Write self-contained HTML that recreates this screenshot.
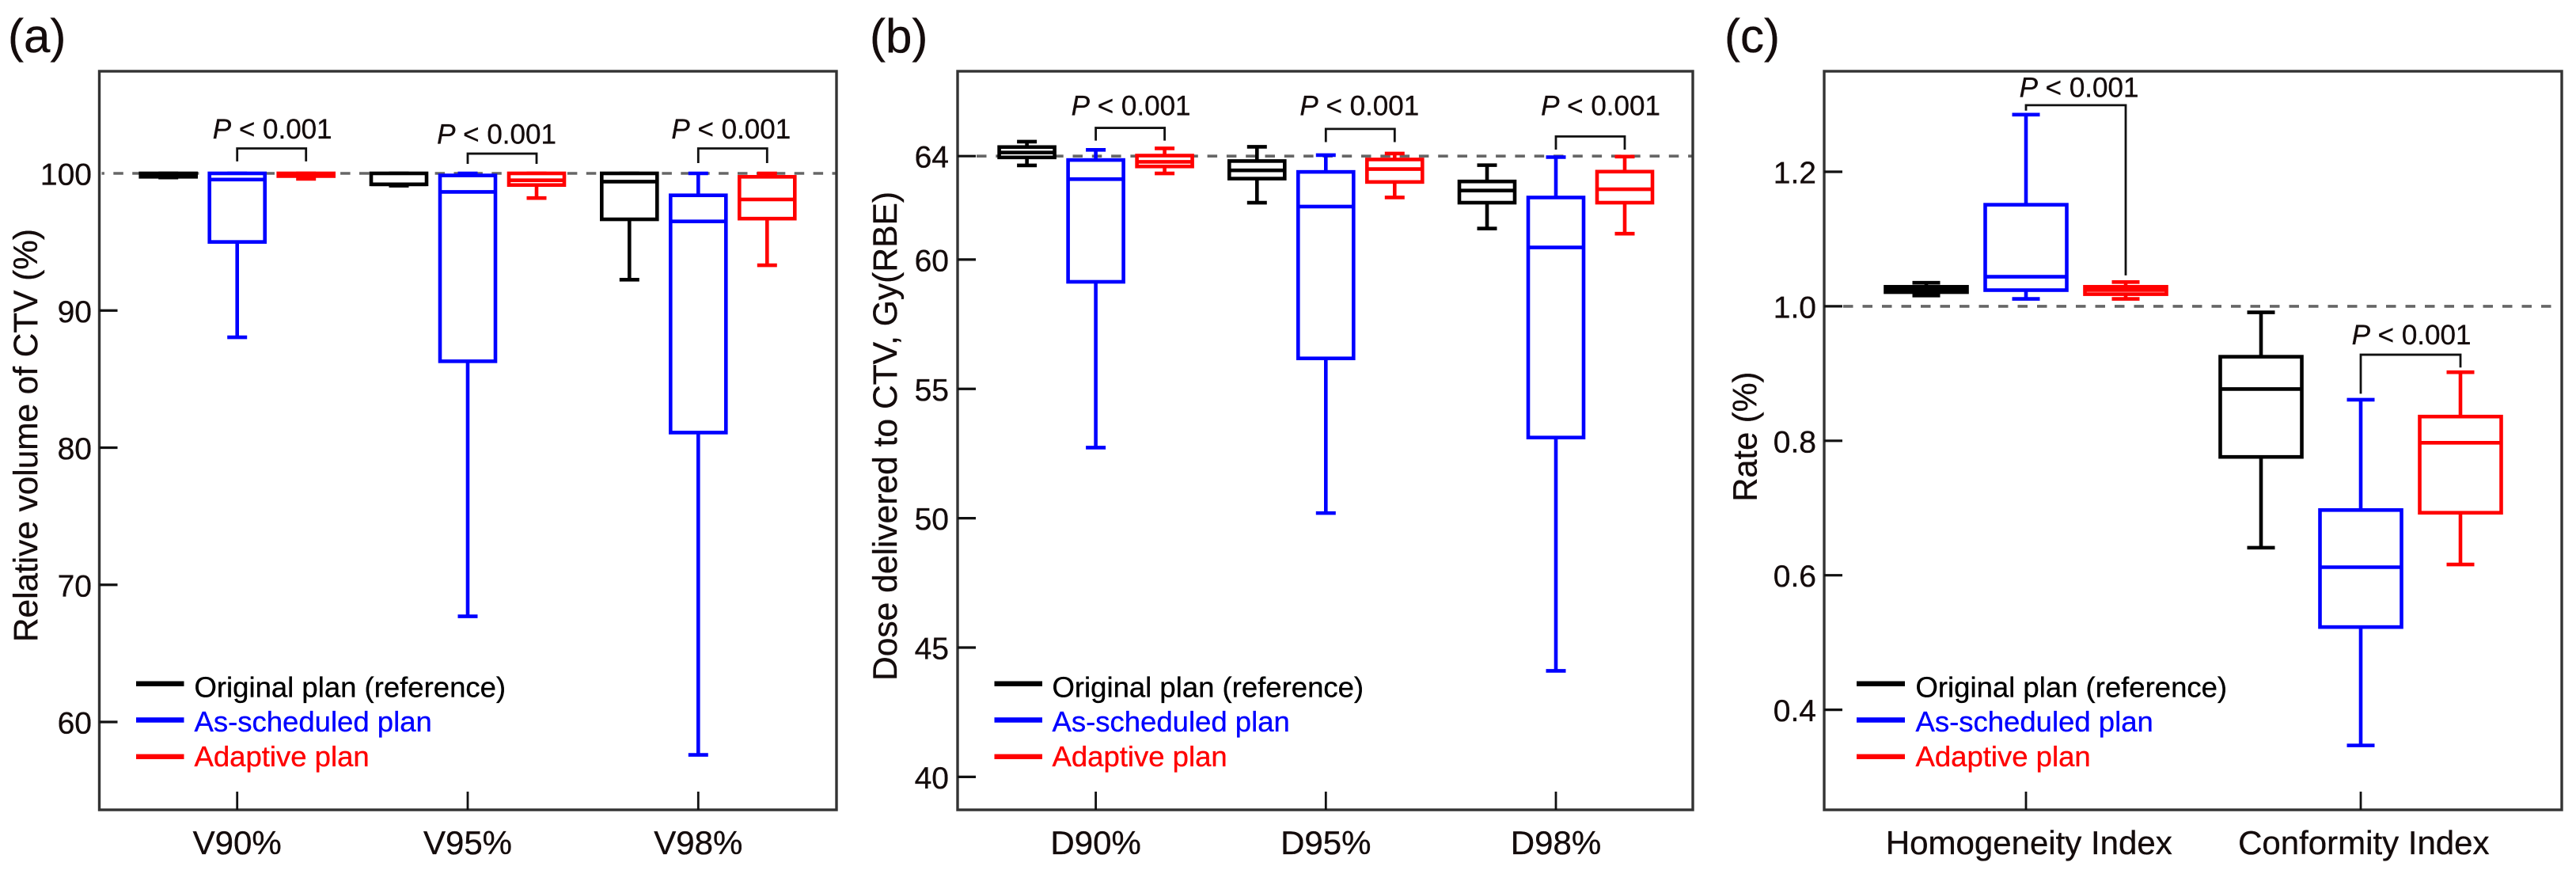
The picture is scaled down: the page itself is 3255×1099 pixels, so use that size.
<!DOCTYPE html>
<html lang="en">
<head>
<meta charset="utf-8">
<title>CTV coverage box plots</title>
<style>
  html, body { margin: 0; padding: 0; background: #fff; }
  svg { display: block; }
  text { font-family: "Liberation Sans", Arial, sans-serif; color: #140c0c; fill: currentColor; stroke: currentColor; stroke-width: 0.35px; }
</style>
</head>
<body>
<svg id="figure" xmlns="http://www.w3.org/2000/svg" width="3255" height="1099" viewBox="0 0 3255 1099">
  <rect x="0" y="0" width="3255" height="1099" fill="#ffffff"/>
</svg>
<script>
// ---------- Data: each box is [low whisker, Q1, median, Q3, high whisker] ----------
const seriesNames = ['Original plan (reference)', 'As-scheduled plan', 'Adaptive plan'];
const seriesColors = ['#000000', '#0000ff', '#ff0000'];

// Panel (a)
const aCategories = ['V90%', 'V95%', 'V98%'];
const aTickValues = [100, 90, 80, 70, 60];
const aOriginal = [[99.7, 99.75, 99.9, 100, 100], [99.1, 99.2, 99.2, 100, 100], [92.25, 96.65, 99.4, 100, 100]];
const aScheduled = [[88.05, 95.0, 99.55, 100, 100], [67.7, 86.3, 98.65, 99.85, 100], [57.6, 81.1, 96.5, 98.4, 100]];
const aAdaptive = [[99.6, 99.8, 99.9, 100, 100], [98.2, 99.15, 99.5, 100, 100], [93.3, 96.7, 98.1, 99.75, 100]];
const aBracketTop = [101.82, 101.44, 101.82];
const aBracketLeftEnd = [100.87, 100.69, 100.75];
const aBracketRightEnd = [100.87, 100.69, 100.75];
const aPLabelLevel = [102.54, 102.17, 102.54];
const aPLabelText = ['< 0.001', '< 0.001', '< 0.001'];

// Panel (b)
const bCategories = ['D90%', 'D95%', 'D98%'];
const bTickValues = [64, 60, 55, 50, 45, 40];
const bOriginal = [[63.64, 63.95, 64.14, 64.35, 64.56], [62.2, 63.13, 63.45, 63.81, 64.36], [61.2, 62.2, 62.67, 63.02, 63.65]];
const bScheduled = [[52.73, 59.14, 63.11, 63.85, 64.24], [50.2, 56.18, 62.05, 63.39, 64.04], [44.1, 53.12, 60.47, 62.4, 63.96]];
const bAdaptive = [[63.33, 63.6, 63.78, 64.02, 64.3], [62.4, 63.0, 63.5, 63.87, 64.1], [61.0, 62.2, 62.72, 63.4, 63.98]];
const bBracketTop = [65.09, 65.05, 64.76];
const bBracketLeftEnd = [64.6, 64.54, 64.25];
const bBracketRightEnd = [64.6, 64.54, 64.25];
const bPLabelLevel = [65.58, 65.58, 65.58];
const bPLabelText = ['< 0.001', '< 0.001', '< 0.001'];

// Panel (c)
const cCategories = ['Homogeneity Index', 'Conformity Index'];
const cTickValues = [1.2, 1.0, 0.8, 0.6, 0.4];
const cTickLabels = ['1.2', '1.0', '0.8', '0.6', '0.4'];
const cOriginal = [[1.016, 1.021, 1.025, 1.029, 1.035], [0.641, 0.776, 0.877, 0.925, 0.991]];
const cScheduled = [[1.011, 1.024, 1.044, 1.151, 1.285], [0.347, 0.523, 0.612, 0.697, 0.861]];
const cAdaptive = [[1.011, 1.018, 1.024, 1.029, 1.036], [0.616, 0.693, 0.797, 0.836, 0.902]];
const cBracketTop = [1.299, 0.928];
const cBracketLeftEnd = [1.291, 0.870];
const cBracketRightEnd = [1.046, 0.909];
const cPLabelLevel = [1.311, 0.9435];
const cPLabelText = ['< 0.001', '< 0.001'];

// ---------- Layout ----------
const SVG_NS = 'http://www.w3.org/2000/svg';
const figure = document.getElementById('figure');
const LINE = 4.6;
const FRAME_TOP = 90;
const FRAME_BOTTOM = 1023;
const TICK_LENGTH = 23;

const panels = [
  { key: 'a', letter: '(a)', letterX: 10, left: 125.5, right: 1057, firstCat: 299.7, catStep: 291.3,
    seriesStep: 87, boxWidth: 70, capWidth: 25,
    scale: [100, 219, 60, 912], categories: aCategories, ticks: aTickValues, tickLabels: aTickValues.map(String),
    hiddenTick: 100, refValue: 100, refStart: 3, dashGap: 11.4, dashOffset: 9.1, tickRight: 116,
    series: [aOriginal, aScheduled, aAdaptive], bracketTop: aBracketTop, bracketLeft: aBracketLeftEnd, bracketRight: aBracketRightEnd,
    pLevel: aPLabelLevel, pText: aPLabelText, pShift: [1, -7, -2],
    title: 'Relative volume of CTV (%)', titleX: 47, titleBottom: 811, titleLength: 522,
    legendLine: [172, 232.5], legendText: 245.5 },
  { key: 'b', letter: '(b)', letterX: 1099, left: 1210, right: 2139, firstCat: 1384.6, catStep: 290.7,
    seriesStep: 87, boxWidth: 70, capWidth: 25,
    scale: [60, 327.9, 40, 981.4], categories: bCategories, ticks: bTickValues, tickLabels: bTickValues.map(String),
    hiddenTick: null, refValue: 64, refStart: 24, dashGap: 11.8, dashOffset: 0, tickRight: 1199,
    series: [bOriginal, bScheduled, bAdaptive], bracketTop: bBracketTop, bracketLeft: bBracketLeftEnd, bracketRight: bBracketRightEnd,
    pLevel: bPLabelLevel, pText: bPLabelText, pShift: [1, -1, 13],
    title: 'Dose delivered to CTV, Gy(RBE)', titleX: 1133, titleBottom: 860, titleLength: 618,
    legendLine: [1256.5, 1317], legendText: 1329.5 },
  { key: 'c', letter: '(c)', letterX: 2179, left: 2305, right: 3237, firstCat: 2560, catStep: 423,
    seriesStep: 126, boxWidth: 103, capWidth: 35,
    scale: [1.2, 217, 0.4, 896.6], categories: cCategories, ticks: cTickValues, tickLabels: cTickLabels,
    hiddenTick: null, refValue: 1.0, refStart: 24, dashGap: 12, dashOffset: 0, tickRight: 2295,
    series: [cOriginal, cScheduled, cAdaptive], bracketTop: cBracketTop, bracketLeft: cBracketLeftEnd, bracketRight: cBracketRightEnd,
    pLevel: cPLabelLevel, pText: cPLabelText, pShift: [4, 1],
    title: 'Rate (%)', titleX: 2219.5, titleBottom: 633.6, titleLength: 164,
    legendLine: [2346, 2407], legendText: 2420.5 }
];
const legendLineY = [863.7, 909.5, 955.8];
const legendTextY = [880.5, 924, 968];

function svgEl(tag, attrs, parent) {
  const node = document.createElementNS(SVG_NS, tag);
  for (const k in attrs) node.setAttribute(k, attrs[k]);
  parent.appendChild(node);
  return node;
}
function makeYAxis(s) {
  const pxPerUnit = (s[3] - s[1]) / (s[2] - s[0]);
  return function (v) { return s[1] + (v - s[0]) * pxPerUnit; };
}
function makeXAxis(p) {
  return function (cat, seriesIndex) { return p.firstCat + cat * p.catStep + (seriesIndex - 1) * p.seriesStep; };
}

function drawBox(group, x, y, stats, color, p) {
  const low = y(stats[0]), q1 = y(stats[1]), med = y(stats[2]), q3 = y(stats[3]), high = y(stats[4]);

  const whiskerUp = svgEl('line', { x1: x, x2: x, y1: q3, y2: high, stroke: color, 'stroke-width': LINE }, group);
  
  

  const whiskerDown = svgEl('line', { x1: x, x2: x, y1: q1, y2: low, stroke: color, 'stroke-width': LINE }, group);
  
  

  const capUp = svgEl('line', { x1: x - p.capWidth / 2, x2: x + p.capWidth / 2, y1: high, y2: high, stroke: color, 'stroke-width': LINE }, group);
  
  

  const capDown = svgEl('line', { x1: x - p.capWidth / 2, x2: x + p.capWidth / 2, y1: low, y2: low, stroke: color, 'stroke-width': LINE }, group);
  
  

  const rect = svgEl('rect', { x: x - p.boxWidth / 2, y: q3, width: p.boxWidth, height: q1 - q3, fill: '#ffffff', stroke: color, 'stroke-width': LINE }, group);
  
  

  const median = svgEl('line', { x1: x - p.boxWidth / 2, x2: x + p.boxWidth / 2, y1: med, y2: med, stroke: color, 'stroke-width': LINE }, group);
  
  
}

function drawPanel(p) {
  const y = makeYAxis(p.scale);
  const x = makeXAxis(p);

  const panel = svgEl('g', {}, figure);
  
  

  const letter = svgEl('text', { x: p.letterX, y: 66, 'font-size': 60 }, panel);
  letter.textContent = p.letter;
  
  

  // reference dashed line
  const refLine = svgEl('line', { x1: p.left + p.refStart, x2: p.right, y1: y(p.refValue), y2: y(p.refValue), stroke: '#666666', 'stroke-width': 3.6, 'stroke-dasharray': '12.5 ' + p.dashGap, 'stroke-dashoffset': p.dashOffset }, panel);
  
  

  // boxes
  p.series.forEach(function (values, s) {
    values.forEach(function (stats, c) {
      const g = svgEl('g', {}, panel);
      
      
      drawBox(g, x(c, s), y, stats, seriesColors[s], p);
    });
  });

  // frame
  const frame = svgEl('rect', { x: p.left, y: FRAME_TOP, width: p.right - p.left, height: FRAME_BOTTOM - FRAME_TOP, fill: 'none', stroke: '#333333', 'stroke-width': 3.4 }, panel);
  
  

  // y ticks
  p.ticks.forEach(function (v, i) {
    if (v !== p.hiddenTick) {
      const t = svgEl('line', { x1: p.left, x2: p.left + TICK_LENGTH, y1: y(v), y2: y(v), stroke: '#111111', 'stroke-width': 3.2 }, panel);
      
      
    }
    const lab = svgEl('text', { x: p.tickRight, y: y(v) + 14.5, 'font-size': 39, 'text-anchor': 'end' }, panel);
    lab.textContent = p.tickLabels[i];
    
    
  });

  // x ticks
  p.categories.forEach(function (name, c) {
    const t = svgEl('line', { x1: x(c, 1), x2: x(c, 1), y1: FRAME_BOTTOM - TICK_LENGTH, y2: FRAME_BOTTOM, stroke: '#111111', 'stroke-width': 2.8 }, panel);
    
    
    const lab = svgEl('text', { x: x(c, 1) + (p.key === 'c' ? 3.8 : 0), y: 1079, 'font-size': 42, 'text-anchor': 'middle' }, panel);
    lab.textContent = name;
    
    
  });

  // significance brackets
  p.bracketTop.forEach(function (top, c) {
    const x0 = x(c, 1), x1 = x(c, 2);
    const b = svgEl('polyline', {
      points: x0 + ',' + y(p.bracketLeft[c]) + ' ' + x0 + ',' + y(top) + ' ' + x1 + ',' + y(top) + ' ' + x1 + ',' + y(p.bracketRight[c]),
      fill: 'none', stroke: '#111111', 'stroke-width': 2.8
    }, panel);
    
    

    const label = svgEl('text', { x: (x0 + x1) / 2 + p.pShift[c], y: y(p.pLevel[c]), 'font-size': 35, 'text-anchor': 'middle' }, panel);
    
    
    const pGlyph = svgEl('tspan', { 'font-style': 'italic' }, label);
    pGlyph.textContent = 'P';
    const rest = svgEl('tspan', {}, label);
    rest.textContent = ' ' + p.pText[c];
  });

  // y axis title
  const title = svgEl('text', {
    transform: 'translate(' + p.titleX + ' ' + p.titleBottom + ') rotate(-90)',
    x: 0, y: 0, 'font-size': 43, textLength: p.titleLength, lengthAdjust: 'spacingAndGlyphs'
  }, panel);
  title.textContent = p.title;
  
  

  // legend
  const legend = svgEl('g', {}, panel);
  
  
  seriesNames.forEach(function (name, s) {
    const swatch = svgEl('line', { x1: p.legendLine[0], x2: p.legendLine[1], y1: legendLineY[s], y2: legendLineY[s], stroke: seriesColors[s], 'stroke-width': 6.4 }, legend);
    
    
    const txt = svgEl('text', { x: p.legendText, y: legendTextY[s], 'font-size': 36.5, style: 'color:' + seriesColors[s] }, legend);
    txt.textContent = name;
    
    
  });
}

panels.forEach(drawPanel);
</script>
</body>
</html>
